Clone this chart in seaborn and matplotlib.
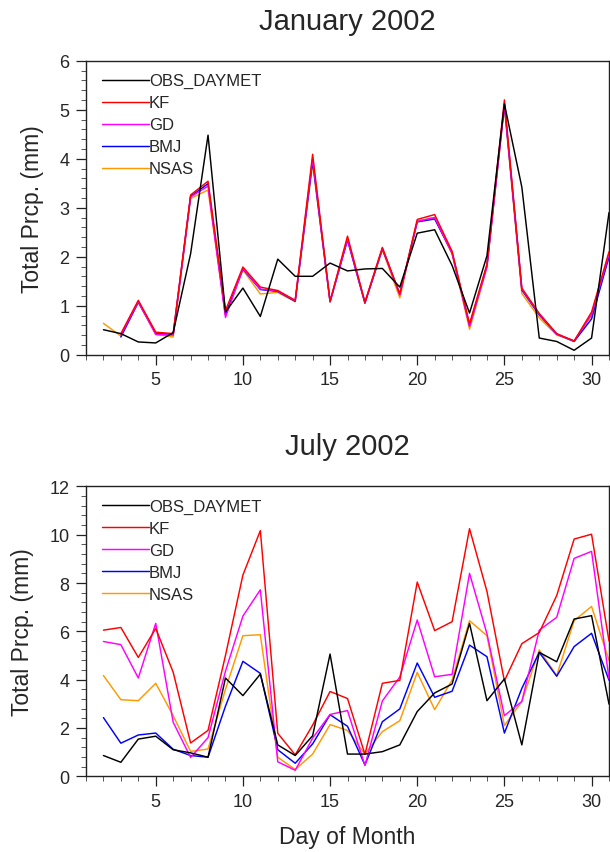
import numpy as np
import pandas as pd
import matplotlib
matplotlib.use("Agg")
import matplotlib.pyplot as plt
from matplotlib.ticker import MultipleLocator
from matplotlib.lines import Line2D
import seaborn as sns

days = list(range(2, 32))
models = ["OBS_DAYMET", "KF", "GD", "BMJ", "NSAS"]
colors = {"OBS_DAYMET": "#000000", "KF": "#FF0000", "GD": "#FF00FF",
          "BMJ": "#0000FF", "NSAS": "#FF9900"}
nan = np.nan

jan_obs = [0.51, 0.43, 0.26, 0.24, 0.45, 2.06, 4.48, 0.87, 1.36, 0.78, 1.95, 1.60, 1.60, 1.87, 1.71,
           1.75, 1.76, 1.38, 2.48, 2.55, 1.82, 0.85, 2.02, 5.12, 3.42, 0.34, 0.27, 0.09, 0.34, 2.9]
jan_kf = [nan, 0.43, 1.11, 0.46, 0.43, 3.26, 3.54, 0.90, 1.79, 1.38, 1.31, 1.11, 4.09, 1.09, 2.42,
          1.07, 2.19, 1.24, 2.76, 2.86, 2.11, 0.63, 1.85, 5.20, 1.36, 0.84, 0.43, 0.28, 0.87, 2.1]
jan_gd = [nan, 0.40, 1.08, 0.41, 0.40, 3.22, 3.44, 0.76, 1.76, 1.34, 1.30, 1.10, 4.00, 1.08, 2.36,
          1.07, 2.17, 1.22, 2.72, 2.80, 2.07, 0.58, 1.80, 5.12, 1.34, 0.83, 0.42, 0.28, 0.82, 2.05]
jan_bmj = [nan, 0.36, 1.07, 0.44, 0.41, 3.23, 3.49, 0.82, 1.75, 1.33, 1.29, 1.09, 3.95, 1.08, 2.34,
           1.05, 2.16, 1.24, 2.71, 2.77, 2.08, 0.60, 1.82, 5.10, 1.32, 0.81, 0.42, 0.27, 0.73, 2.0]
jan_nsas = [0.64, 0.38, 1.08, 0.42, 0.36, 3.19, 3.36, 0.80, 1.73, 1.24, 1.27, 1.08, 3.90, 1.08, 2.38,
            1.06, 2.14, 1.16, 2.73, 2.80, 2.05, 0.52, 1.78, 5.05, 1.25, 0.75, 0.40, 0.28, 0.80, 2.0]

jul_obs = [0.86, 0.58, 1.54, 1.66, 1.10, 0.97, 0.79, 4.07, 3.34, 4.23, 1.30, 0.86, 1.68, 5.06, 0.92,
           0.92, 1.02, 1.30, 2.68, 3.45, 3.82, 6.33, 3.13, 4.03, 1.30, 5.13, 4.74, 6.51, 6.65, 2.99]
jul_kf = [6.05, 6.16, 4.92, 6.12, 4.31, 1.38, 1.90, 5.00, 8.33, 10.17, 1.78, 0.89, 2.12, 3.51, 3.22,
          0.91, 3.85, 3.97, 8.04, 6.03, 6.40, 10.25, 7.65, 3.95, 5.49, 5.95, 7.48, 9.82, 10.02, 5.6]
jul_gd = [5.58, 5.45, 4.07, 6.33, 2.24, 0.78, 1.60, 4.35, 6.63, 7.72, 0.60, 0.25, 1.58, 2.56, 2.72,
          0.45, 3.12, 4.11, 6.47, 4.12, 4.22, 8.40, 5.90, 2.51, 3.10, 6.05, 6.58, 9.02, 9.31, 4.05]
jul_bmj = [2.43, 1.37, 1.71, 1.79, 1.12, 0.86, 0.79, 2.90, 4.76, 4.26, 1.10, 0.54, 1.34, 2.55, 2.07,
           0.47, 2.26, 2.79, 4.69, 3.27, 3.52, 5.43, 4.95, 1.79, 3.64, 5.13, 4.14, 5.37, 5.92, 3.98]
jul_nsas = [4.17, 3.17, 3.13, 3.85, 2.51, 1.03, 1.13, 3.60, 5.82, 5.86, 0.79, 0.28, 0.92, 2.14, 1.90,
            0.92, 1.85, 2.30, 4.30, 2.76, 3.99, 6.44, 5.82, 2.10, 3.10, 5.23, 4.17, 6.44, 7.03, 4.8]

titles = ["January 2002", "July 2002"]
series = {
    "January 2002": dict(zip(models, [jan_obs, jan_kf, jan_gd, jan_bmj, jan_nsas])),
    "July 2002": dict(zip(models, [jul_obs, jul_kf, jul_gd, jul_bmj, jul_nsas])),
}
rows = []
for t in titles:
    for m in models:
        for d, v in zip(days, series[t][m]):
            rows.append({"month": t, "model": m, "day": d, "value": v})
df = pd.DataFrame(rows)

sns.set_style("ticks")
plt.rcParams["font.family"] = ["Liberation Sans", "DejaVu Sans"]

fig = plt.figure(figsize=(6.10, 8.53), dpi=100)
W, H = 610.0, 853.0
left, right = 86.0, 609.0
panels = [(61.7, 355.7, 6, 1, 0.2), (487.4, 777.3, 12, 2, 0.4)]
zorders = {"OBS_DAYMET": 6, "KF": 5, "GD": 4, "BMJ": 3, "NSAS": 2}

for t, (ytop, ybot, ymax, ymaj, ymin) in zip(titles, panels):
    ax = fig.add_axes([left / W, 1 - ybot / H, (right - left) / W, (ybot - ytop) / H])
    sub = df[df["month"] == t]
    for m in models:
        s = sub[sub["model"] == m].dropna()
        sns.lineplot(data=s, x="day", y="value", color=colors[m], lw=1.05, ax=ax,
                     zorder=zorders[m], legend=False, estimator=None)
    ax.set_xlim(1, 31)
    ax.set_ylim(0, ymax)
    ax.xaxis.set_major_locator(MultipleLocator(5))
    ax.xaxis.set_minor_locator(MultipleLocator(1))
    ax.yaxis.set_major_locator(MultipleLocator(ymaj))
    ax.yaxis.set_minor_locator(MultipleLocator(ymin))
    ax.tick_params(which="major", direction="out", length=7, width=0.9, labelsize=13,
                   pad=5, color="#222222")
    ax.tick_params(which="minor", direction="out", length=3.5, width=0.7, color="#555555")
    for sp in ax.spines.values():
        sp.set_linewidth(1.0)
        sp.set_color("#222222")
    ax.set_title(t, fontsize=21, pad=23)
    ax.set_ylabel("Total Prcp. (mm)", fontsize=16.5, labelpad=11)
    ax.set_xlabel("")
    if t == "July 2002":
        ax.set_xlabel("Day of Month", fontsize=16.5, labelpad=11)
    handles = [Line2D([], [], color=colors[m], lw=1.05) for m in models]
    ax.legend(handles, models, loc="upper left", bbox_to_anchor=(0.031, 0.957),
              frameon=False, fontsize=12, handlelength=2.8, handletextpad=0.0,
              labelspacing=0.42, borderpad=0, borderaxespad=0)

fig.savefig("out.png", dpi=100)
